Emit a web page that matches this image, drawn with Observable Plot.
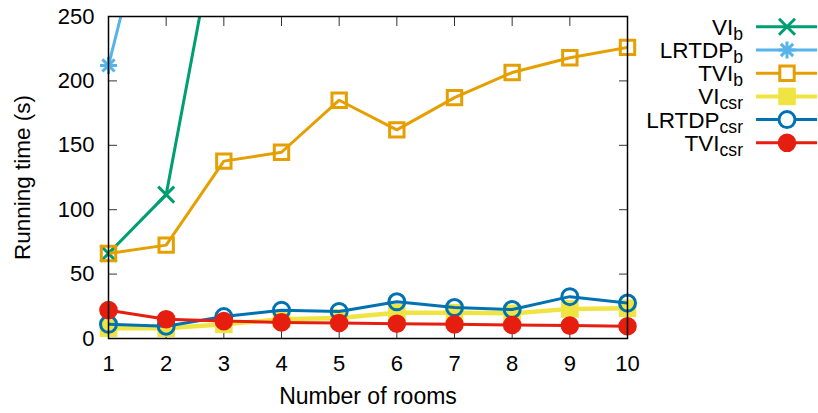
<!DOCTYPE html>
<html>
<head>
<meta charset="utf-8">
<script src="https://cdn.jsdelivr.net/npm/d3@7"></script>
<script src="https://cdn.jsdelivr.net/npm/@observablehq/plot@0.6"></script>
<style>
  body { margin: 0; background: #fff; }
  #chart svg { display: block; }
</style>
</head>
<body>
<div id="chart"></div>
<script>
// Running time per number of rooms, for each solver / representation
const rooms = [1, 2, 3, 4, 5, 6, 7, 8, 9, 10];
const viB = [66, 111.7, 350];          // off-scale after 3 rooms
const lrtdpB = [212, 390];             // off-scale after 2 rooms
const tviB = [66, 72.5, 137.7, 144.6, 185, 162, 187, 206.5, 218, 226];
const viCsr = [8, 8, 11, 15, 16, 20, 20, 19.5, 23, 23.5];
const lrtdpCsr = [11, 9.5, 17, 22, 21, 28.5, 24, 22.5, 32.5, 27.5];
const tviCsr = [22, 15, 13.5, 12.5, 12, 11.5, 11, 10.5, 10, 9.5];

const yTicks = [0, 50, 100, 150, 200, 250];
const seriesBase = ["VI", "LRTDP", "TVI", "VI", "LRTDP", "TVI"];
const seriesSub = ["b", "b", "b", "csr", "csr", "csr"];
const colors = ["#009e73", "#56b4e9", "#e69f00", "#f0e442", "#0072b2", "#e51e10"];

const yMax = 250;
const font = "'Liberation Sans', Arial, Helvetica, sans-serif";

// Point shapes (radius-like size r = sqrt(size / PI))
const half = (size) => Math.sqrt(size / Math.PI);
const crossSym = { draw(c, s) { const h = half(s); c.moveTo(-h, -h); c.lineTo(h, h); c.moveTo(-h, h); c.lineTo(h, -h); } };
const starSym = { draw(c, s) {
  const h = half(s), d = h * 0.72;
  c.moveTo(-h, 0); c.lineTo(h, 0); c.moveTo(0, -h); c.lineTo(0, h);
  c.moveTo(-d, -d); c.lineTo(d, d); c.moveTo(-d, d); c.lineTo(d, -d);
} };
const squareSym = { draw(c, s) { const h = half(s); c.moveTo(-h, -h); c.lineTo(h, -h); c.lineTo(h, h); c.lineTo(-h, h); c.closePath(); } };
const circleSym = { draw(c, s) { const h = half(s); c.moveTo(h, 0); c.arc(0, 0, h, 0, 2 * Math.PI); c.closePath(); } };

const styles = [
  { symbol: crossSym, r: 8, filled: false, lw: 3 },
  { symbol: starSym, r: 8.5, filled: false, lw: 3 },
  { symbol: squareSym, r: 7.2, filled: false, lw: 3 },
  { symbol: squareSym, r: 8.8, filled: true, lw: 4.5 },
  { symbol: circleSym, r: 8, filled: false, lw: 3 },
  { symbol: circleSym, r: 9.3, filled: true, lw: 3 }
];

const valueSets = [viB, lrtdpB, tviB, viCsr, lrtdpCsr, tviCsr];
const series = valueSets.map((vals, i) => ({
  color: colors[i],
  ...styles[i],
  data: vals.map((v, j) => ({ rooms: rooms[j], time: v }))
}));

const marks = [];
for (const s of series) {
  marks.push(Plot.line(s.data, { x: "rooms", y: "time", stroke: s.color, strokeWidth: s.lw, clip: true }));
  marks.push(Plot.dot(s.data.filter(d => d.time <= yMax), {
    x: "rooms", y: "time", symbol: s.symbol, r: s.r,
    fill: s.filled ? s.color : "none",
    stroke: s.color, strokeWidth: s.filled ? 0 : 3
  }));
}

const chart = Plot.plot({
  width: 818,
  height: 413,
  marginLeft: 108,
  marginRight: 191,
  marginTop: 16,
  marginBottom: 75,
  style: { fontFamily: font, fontSize: "22px", color: "#000", background: "#fff", overflow: "visible" },
  x: { domain: [1, 10] },
  y: { domain: [0, yMax] },
  marks: [
    Plot.axisX({ ticks: rooms, tickSize: 0, tickPadding: 17, fontSize: 22, label: null }),
    Plot.axisY({ ticks: yTicks, tickSize: 0, tickPadding: 14, fontSize: 22, label: null }),
    // inward ticks on all four sides (labels hidden)
    Plot.axisX({ anchor: "bottom", ticks: rooms, tickSize: 9, dy: -9, stroke: "#333", fill: "none", label: null }),
    Plot.axisX({ anchor: "top", ticks: rooms, tickSize: 9, dy: 9, stroke: "#333", fill: "none", label: null }),
    Plot.axisY({ anchor: "left", ticks: yTicks, tickSize: 9, dx: 9, stroke: "#333", fill: "none", label: null }),
    Plot.axisY({ anchor: "right", ticks: yTicks, tickSize: 9, dx: -9, stroke: "#333", fill: "none", label: null }),
    ...marks,
    Plot.frame({ stroke: "#000", strokeWidth: 1.5 }),
    Plot.text(["Number of rooms"], { frameAnchor: "bottom", dy: 58, fontSize: 23, lineAnchor: "middle", textAnchor: "middle" }),
    Plot.text(["Running time (s)"], { frameAnchor: "left", dx: -86, rotate: -90, fontSize: 22.5, lineAnchor: "middle", textAnchor: "middle" })
  ]
});

document.getElementById("chart").appendChild(chart);

// Legend (top right)
const svg = d3.select(chart.tagName.toLowerCase() === "svg" ? chart : chart.querySelector("svg"));
const lg = svg.append("g").attr("font-family", font);
const rowY0 = 26.8, rowStep = 23.2;
series.forEach((s, i) => {
  const cy = rowY0 + i * rowStep;
  lg.append("line").attr("x1", 756).attr("x2", 817).attr("y1", cy).attr("y2", cy)
    .attr("stroke", s.color).attr("stroke-width", s.lw === 3 ? 3 : 4);
  lg.append("path")
    .attr("transform", `translate(787,${cy})`)
    .attr("d", d3.symbol(s.symbol, s.r * s.r * Math.PI)())
    .attr("fill", s.filled ? s.color : "#fff")
    .attr("stroke", s.color).attr("stroke-width", s.filled ? 0 : 3);
  const t = lg.append("text").attr("x", 743).attr("y", cy + 8)
    .attr("text-anchor", "end").attr("font-size", 22.5).attr("fill", "#000");
  t.append("tspan").text(seriesBase[i]);
  t.append("tspan").attr("font-size", 17.6).attr("dy", 5).text(seriesSub[i]);
});
</script>
</body>
</html>
